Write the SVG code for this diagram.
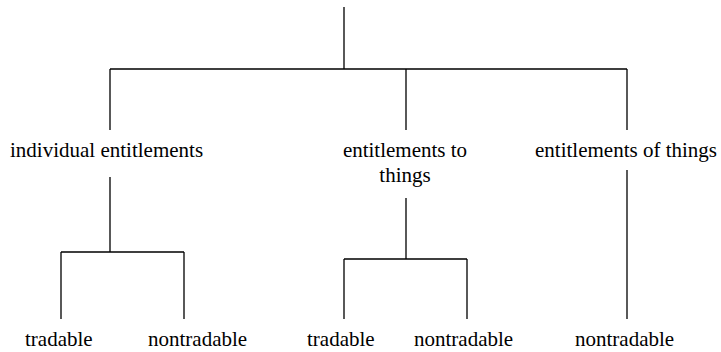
<svg xmlns="http://www.w3.org/2000/svg" width="721" height="352" viewBox="0 0 721 352">
  <style>
    .edge { stroke: #000; stroke-width: 1.3; fill: none; }
    .label { font-family: 'Liberation Serif', 'DejaVu Serif', serif; font-size: 21px; fill: #000; }
  </style>
  <rect width="721" height="352" fill="#fff"/>
  <g id="connectors">
    <path class="edge" d="M344 7 V69 M110 69 H627 M110 69 V130 M406 69 V130 M627 69 V130"/>
    <path class="edge" d="M110 177 V252 M61 252 H184 M61 252 V319 M184 252 V319"/>
    <path class="edge" d="M406 198 V259 M344 259 H467 M344 259 V319 M467 259 V319"/>
    <path class="edge" d="M627 170 V319"/>
  </g>
  <g id="individual-entitlements"><text class="label" font-family="Liberation Serif, DejaVu Serif, serif" x="10" y="157">individual entitlements</text></g>
  <g id="entitlements-to-things"><text class="label" font-family="Liberation Serif, DejaVu Serif, serif" x="405" y="157" text-anchor="middle">entitlements to</text><text class="label" font-family="Liberation Serif, DejaVu Serif, serif" x="405" y="182" text-anchor="middle">things</text></g>
  <g id="entitlements-of-things"><text class="label" font-family="Liberation Serif, DejaVu Serif, serif" x="535" y="157">entitlements of things</text></g>
  <g id="ind-tradable"><text class="label" font-family="Liberation Serif, DejaVu Serif, serif" x="25" y="346">tradable</text></g>
  <g id="ind-nontradable"><text class="label" font-family="Liberation Serif, DejaVu Serif, serif" x="148" y="346">nontradable</text></g>
  <g id="to-tradable"><text class="label" font-family="Liberation Serif, DejaVu Serif, serif" x="307" y="346">tradable</text></g>
  <g id="to-nontradable"><text class="label" font-family="Liberation Serif, DejaVu Serif, serif" x="414" y="346">nontradable</text></g>
  <g id="of-nontradable"><text class="label" font-family="Liberation Serif, DejaVu Serif, serif" x="575" y="346">nontradable</text></g>
</svg>
